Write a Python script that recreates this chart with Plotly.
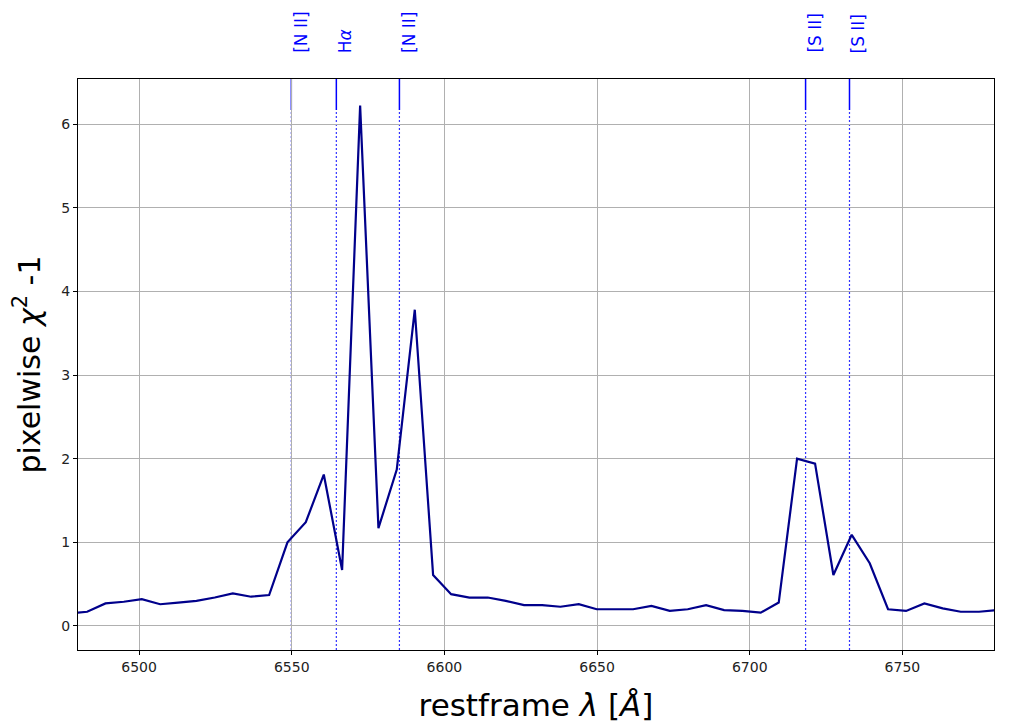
import plotly.graph_objects as go

# restframe wavelength grid [Angstrom]
wavelength = [6477.1, 6483.0, 6489.0, 6495.0, 6500.9, 6506.9, 6512.8, 6518.8, 6524.8, 6530.7,
              6536.7, 6542.6, 6548.6, 6554.6, 6560.5, 6566.5, 6572.4, 6578.4, 6584.4, 6590.3,
              6596.3, 6602.2, 6608.2, 6614.2, 6620.1, 6626.1, 6632.0, 6638.0, 6644.0, 6649.9,
              6655.9, 6661.8, 6667.8, 6673.8, 6679.7, 6685.7, 6691.6, 6697.6, 6703.6, 6709.5,
              6715.5, 6721.4, 6727.4, 6733.4, 6739.3, 6745.3, 6751.2, 6757.2, 6763.2, 6769.1,
              6775.1, 6781.0]
# pixelwise chi^2 - 1
chi2_minus1 = [0.15, 0.17, 0.27, 0.29, 0.32, 0.26, 0.28, 0.30, 0.34, 0.39,
               0.35, 0.37, 1.00, 1.24, 1.81, 0.67, 6.22, 1.17, 1.87, 3.78,
               0.61, 0.38, 0.34, 0.34, 0.30, 0.25, 0.25, 0.23, 0.26, 0.20,
               0.20, 0.20, 0.24, 0.18, 0.20, 0.25, 0.19, 0.18, 0.16, 0.28,
               2.00, 1.94, 0.61, 1.09, 0.75, 0.20, 0.18, 0.27, 0.21, 0.17,
               0.17, 0.19]

# emission lines
line_names = ["[N II]", "H<i>α</i>", "[N II]", "[S II]", "[S II]"]
line_waves = [6549.86, 6564.61, 6585.27, 6718.29, 6732.67]

x_ticks = [6500, 6550, 6600, 6650, 6700, 6750]
y_ticks = [0, 1, 2, 3, 4, 5, 6]

fig = go.Figure()

plot_h = 571.0
solid_frac = 31.0 / plot_h
for name, w in zip(line_names, line_waves):
    fig.add_shape(type="line", xref="x", yref="paper", x0=w, x1=w, y0=1 - solid_frac, y1=1,
                  line=dict(color="#0000FF", width=1.5), layer="below")
    fig.add_shape(type="line", xref="x", yref="paper", x0=w, x1=w, y0=0, y1=1 - solid_frac,
                  line=dict(color="#3333FF", width=1.2, dash="2px,2px"), layer="below")
    fig.add_annotation(x=w, y=1, xref="x", yref="paper", text=name, textangle=-90,
                       showarrow=False, xanchor="left", yanchor="bottom", yshift=24, xshift=-3,
                       font=dict(family="DejaVu Sans", size=17, color="#0000FF"))

fig.add_trace(go.Scatter(x=wavelength, y=chi2_minus1, mode="lines",
                         line=dict(color="#00008B", width=2.2), showlegend=False))

axis_common = dict(showline=True, linecolor="black", linewidth=1, mirror=True,
                   ticks="outside", ticklen=4, tickcolor="black", tickwidth=1,
                   showgrid=True, gridcolor="#b0b0b0", gridwidth=1, zeroline=False,
                   tickfont=dict(family="DejaVu Sans", size=14, color="#222222"))

fig.update_xaxes(range=[6480, 6780], tickvals=x_ticks,
                 title=dict(text="restframe <i>λ</i> [<i>Å</i>]", standoff=20,
                            font=dict(family="DejaVu Sans", size=31, color="black")),
                 **axis_common)
fig.update_yaxes(range=[-0.287, 6.538], tickvals=y_ticks,
                 title=dict(text="pixelwise <i>χ</i><sup>2</sup> -1", standoff=19,
                            font=dict(family="DejaVu Sans", size=30, color="black")),
                 **axis_common)

fig.update_layout(width=1021, height=727, plot_bgcolor="white", paper_bgcolor="white",
                  margin=dict(l=70, r=35, t=71, b=85, autoexpand=False))

fig.write_html("out.html")
